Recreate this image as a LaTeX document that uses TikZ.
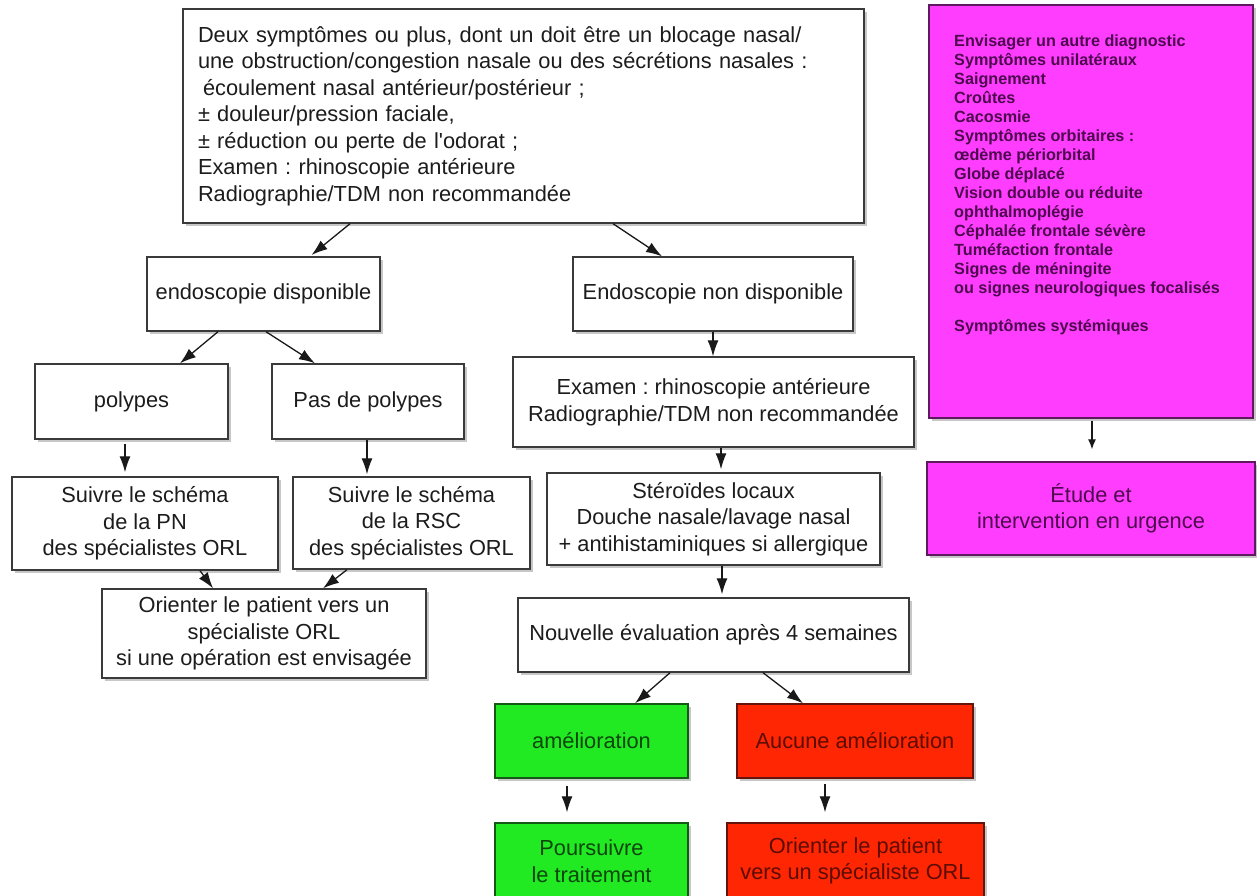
\documentclass[tikz,border=0pt]{standalone}
\usepackage{fontspec}
\setmainfont{Liberation Sans}
\usetikzlibrary{arrows.meta,shadows}

\definecolor{boxline}{RGB}{58,58,58}
\definecolor{ink}{RGB}{28,28,28}
\definecolor{arrowink}{RGB}{25,25,25}
\definecolor{magfill}{RGB}{255,61,255}
\definecolor{magline}{RGB}{95,25,95}
\definecolor{maginkc}{RGB}{78,10,78}
\definecolor{greenfill}{RGB}{34,234,34}
\definecolor{greenline}{RGB}{20,90,20}
\definecolor{greenink}{RGB}{12,70,12}
\definecolor{redfill}{RGB}{255,38,4}
\definecolor{redline}{RGB}{100,20,10}
\definecolor{redink}{RGB}{92,12,0}

\newcommand{\bodyfont}{\fontsize{21.8}{26.5}\selectfont}
\newcommand{\listfont}{\fontsize{16.2}{19}\selectfont\bfseries}
\frenchspacing

\begin{document}
\begin{tikzpicture}[x=1pt,y=-1pt,
  box/.style={draw=boxline, line width=1.4pt, fill=white, inner sep=0pt,
    align=center, font=\bodyfont, text=ink,
    drop shadow={shadow xshift=2.5pt, shadow yshift=-2.5pt, fill=black, opacity=0.22}},
  sz/.style 2 args={minimum width=#1pt, minimum height=#2pt},
  magbox/.style={box, fill=magfill, draw=magline, text=maginkc},
  greenbox/.style={box, fill=greenfill, draw=greenline, text=greenink},
  redbox/.style={box, fill=redfill, draw=redline, text=redink},
  arr/.style={draw=arrowink, line width=1.3pt, -{Latex[length=16pt,width=11pt]}},
  smallarr/.style={draw=arrowink, line width=1.2pt, -{Latex[length=10pt,width=8pt]}}
]
\useasboundingbox (0,0) rectangle (1257,895);

% ---- main question box
\node[box, sz={681}{214}, align=left, text width=651pt, inner xsep=15pt] (top) at (523.5,116)
  {Deux symptômes ou plus, dont un doit être un blocage nasal/\\
   une obstruction/congestion nasale ou des sécrétions nasales :\\
   \hspace*{5pt}écoulement nasal antérieur/postérieur ;\\
   ± douleur/pression faciale,\\
   ± réduction ou perte de l\textquotesingle odorat ;\\
   Examen : rhinoscopie antérieure\\
   Radiographie/TDM non recommandée};

% ---- warning signs and emergency care
\node[magbox, sz={324}{413}] (diag) at (1091,211.5) {};
\node[anchor=north west, inner sep=0pt, align=left, font=\listfont, text=maginkc] (diagtxt) at (954,33)
  {\rule{0pt}{13pt}Envisager un autre diagnostic\\
   Symptômes unilatéraux\\
   Saignement\\
   Croûtes\\
   Cacosmie\\
   Symptômes orbitaires :\\
   œdème périorbital\\
   Globe déplacé\\
   Vision double ou réduite\\
   ophthalmoplégie\\
   Céphalée frontale sévère\\
   Tuméfaction frontale\\
   Signes de méningite\\
   ou signes neurologiques focalisés\\[19pt]
   Symptômes systémiques};
\node[magbox, sz={328}{93}] (urg) at (1091,508.5) {Étude et\\intervention en urgence};

% ---- endoscopy branch
\node[box, sz={233}{74}] (endo) at (263.5,294) {endoscopie disponible};
\node[box, sz={193}{75}] (poly) at (131.5,401.5) {polypes};
\node[box, sz={192}{75}] (nopoly) at (368,401.5) {Pas de polypes};
\node[box, sz={266}{93}] (pn) at (145,523.5) {Suivre le schéma\\de la PN\\des spécialistes ORL};
\node[box, sz={237}{92}] (rsc) at (411.5,523) {Suivre le schéma\\de la RSC\\des spécialistes ORL};
\node[box, sz={324}{89}] (orient) at (264,633.5) {Orienter le patient vers un\\spécialiste ORL\\si une opération est envisagée};

% ---- no endoscopy branch
\node[box, sz={280}{74}] (noendo) at (713,294) {Endoscopie non disponible};
\node[box, sz={401}{90}] (exam) at (713.5,402) {Examen : rhinoscopie antérieure\\Radiographie/TDM non recommandée};
\node[box, sz={333}{92}] (ster) at (713.5,519) {Stéroïdes locaux\\Douche nasale/lavage nasal\\+ antihistaminiques si allergique};
\node[box, sz={391}{74}] (eval) at (713.5,635) {Nouvelle évaluation après 4 semaines};
\node[greenbox, sz={193}{74}] (better) at (591.5,741) {amélioration};
\node[redbox, sz={236}{74}] (worse) at (855,741) {Aucune amélioration};
\node[greenbox, sz={193}{76}] (keep) at (591.5,861) {Poursuivre\\le traitement};
\node[redbox, sz={257}{76}] (refer) at (855.5,861) {Orienter le patient\\vers un spécialiste ORL};

% ---- connectors
\draw[arr, shorten >=2pt] ([xshift=-173.5pt]top.south) -- ([xshift=46.5pt]endo.north);
\draw[arr] ([xshift=89.5pt]top.south) -- ([xshift=-51pt]noendo.north);
\draw[arr] ([xshift=-45.5pt]endo.south) -- ([xshift=48.5pt]poly.north);
\draw[arr] ([xshift=2.5pt]endo.south) -- ([xshift=-53pt]nopoly.north);
\draw[arr, shorten <=4pt, shorten >=4pt] ([xshift=-6.5pt]poly.south) -- ([xshift=-20pt]pn.north);
\draw[arr, shorten >=2pt] ([xshift=-1pt]nopoly.south) -- ([xshift=-44.5pt]rsc.north);
\draw[arr] ([xshift=55pt]pn.south) -- ([xshift=-51pt]orient.north);
\draw[arr] ([xshift=-64.5pt]rsc.south) -- ([xshift=59pt]orient.north);
\draw[arr] (noendo.south) -- ([xshift=-0.5pt]exam.north);
\draw[arr, shorten >=3pt] ([xshift=7.5pt]exam.south) -- ([xshift=7.5pt]ster.north);
\draw[arr, shorten >=3pt] ([xshift=8.5pt]ster.south) -- ([xshift=8.5pt]eval.north);
\draw[arr] ([xshift=-43.5pt]eval.south) -- ([xshift=43.5pt]better.north);
\draw[arr] ([xshift=49.5pt]eval.south) -- ([xshift=-52pt]worse.north);
\draw[arr, shorten <=7pt, shorten >=10pt] ([xshift=-24.5pt]better.south) -- ([xshift=-24.5pt]keep.north);
\draw[arr, shorten <=5pt, shorten >=10pt] ([xshift=-30pt]worse.south) -- ([xshift=-30.5pt]refer.north);
\draw[smallarr, shorten <=2pt, shorten >=12pt] ([xshift=1pt]diag.south) -- ([xshift=1pt]urg.north);
\end{tikzpicture}
\end{document}
